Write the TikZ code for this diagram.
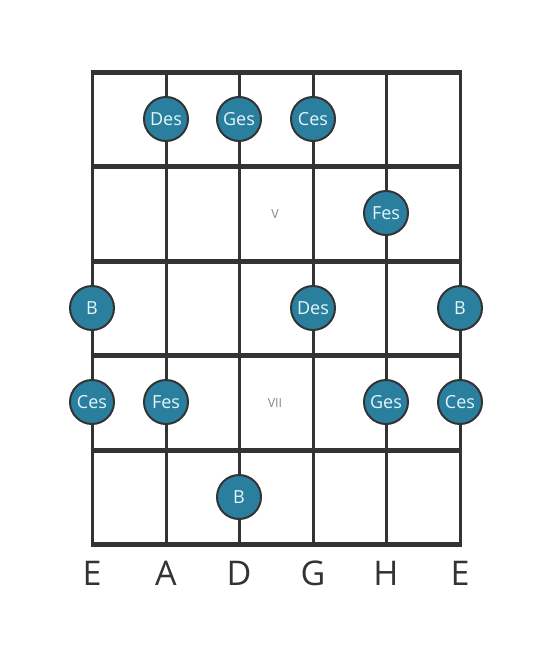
\documentclass[tikz,border=0pt]{standalone}
\usepackage{xcolor}
\usepackage{fontspec}
\setmainfont{Open Sans}
\usepackage{tikz}

\definecolor{fretgray}{HTML}{333333}
\definecolor{dotblue}{HTML}{2A7F9E}
\definecolor{dottext}{HTML}{E4F6FA}
\definecolor{markgray}{HTML}{888888}

\tikzset{
	note/.style={circle,draw=fretgray,line width=2pt,fill=dotblue,minimum size=44pt,inner sep=0pt,text=dottext,font=\fontsize{18pt}{18pt}\selectfont},
	stringname/.style={text=fretgray,font=\fontsize{34pt}{34pt}\selectfont},
	fretmark/.style={text=markgray,font=\fontsize{12.5pt}{12.5pt}\selectfont}
}

\begin{document}
\begin{tikzpicture}[x=1pt,y=-1pt]
	\useasboundingbox (0,0) rectangle (553,656);
	
	% strings
	\foreach \x in {92,166,239,313,386,460}
		\draw[fretgray,line width=3pt] (\x,72) -- (\x,544);
	% frets
	\foreach \y in {72,166,261,355,450,544}
		\draw[fretgray,line width=5pt] (90.5,\y) -- (461.5,\y);
	
	\node[fretmark] (v) at (275,214) {V};
	\node[fretmark] (vii) at (275,403) {VII};
	
	% fret 4
	\node[note] (des1) at (166,119) {Des};
	\node[note] (ges1) at (239,119) {Ges};
	\node[note] (ces1) at (313,119) {Ces};
	% fret 5
	\node[note] (fes1) at (386,213) {Fes};
	% fret 6
	\node[note] (b1) at (92,308) {B};
	\node[note] (des2) at (313,308) {Des};
	\node[note] (b2) at (460,308) {B};
	% fret 7
	\node[note] (ces2) at (92,402) {Ces};
	\node[note] (fes2) at (166,402) {Fes};
	\node[note] (ges2) at (386,402) {Ges};
	\node[note] (ces3) at (460,402) {Ces};
	% fret 8
	\node[note] (b3) at (239,497) {B};
	
	\node[stringname] (e1) at (92,573) {E};
	\node[stringname] (a) at (166,573) {A};
	\node[stringname] (d) at (239,573) {D};
	\node[stringname] (g) at (313,573) {G};
	\node[stringname] (h) at (386,573) {H};
	\node[stringname] (e2) at (460,573) {E};
\end{tikzpicture}
\end{document}
